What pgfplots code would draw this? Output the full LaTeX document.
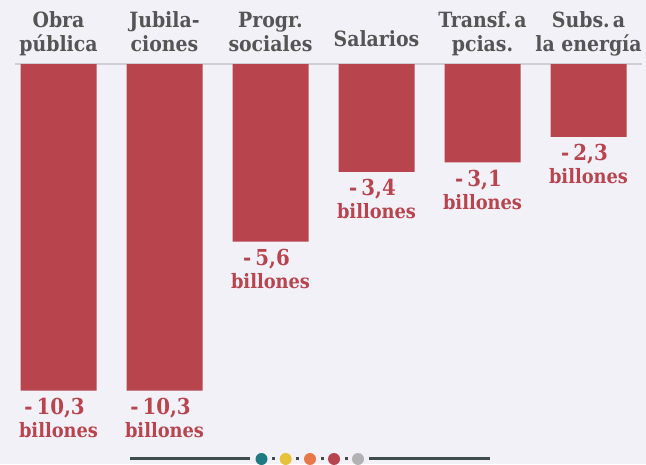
\documentclass[border=0pt]{standalone}
\usepackage{pgfplots}
\pgfplotsset{compat=1.18}
\usepackage{pgfplotstable}
\usepackage{fontspec}
\setmainfont{DejaVu Serif Condensed}[BoldFont={DejaVu Serif Condensed Bold}]
\definecolor{bg}{RGB}{242,241,248}
\definecolor{barred}{RGB}{184,68,78}
\definecolor{hdr}{RGB}{85,85,85}
\definecolor{basel}{RGB}{208,207,214}
\definecolor{deco}{RGB}{62,76,76}
\definecolor{cteal}{RGB}{30,122,128}
\definecolor{cyel}{RGB}{232,192,58}
\definecolor{corg}{RGB}{232,120,74}
\definecolor{cgray}{RGB}{178,178,178}
\pgfplotstableread{
x y lab
0 -10.3 {10,3}
1 -10.3 {10,3}
2 -5.6 {5,6}
3 -3.4 {3,4}
4 -3.1 {3,1}
5 -2.3 {2,3}
}\data
\begin{document}
\begin{tikzpicture}
\fill[bg] (0,0) rectangle (646pt,464pt);
\begin{axis}[
  at={(0,0)}, anchor=south west,
  width=646pt, height=464pt, scale only axis,
  xmin=-0.5519, xmax=5.5425, ymin=-12.618, ymax=2.019,
  hide axis, clip=false,
]
\draw[basel, line width=1.5pt] (axis cs:-0.41,0) -- (axis cs:5.505,0);
\addplot[ybar, bar width=76pt, bar shift=0pt, fill=barred, draw=none,
  point meta=explicit symbolic,
  nodes near coords={-\kern4pt\pgfplotspointmeta},
  every node near coord/.style={anchor=base, yshift=-24pt, xshift=-4pt, font=\bfseries\fontsize{22}{22}\selectfont, text=barred, inner sep=0pt}]
  table[x=x, y=y, meta=lab] {\data};
\addplot[draw=none, mark=none,
  nodes near coords={billones},
  every node near coord/.style={anchor=base, yshift=-47pt, font=\bfseries\fontsize{19.8}{19.8}\selectfont, text=barred, inner sep=0pt}]
  table[x=x, y=y] {\data};
\begin{scope}[every node/.style={anchor=base, font=\bfseries\fontsize{21}{21}\selectfont, text=hdr, inner sep=0pt}]
\node at (axis cs:0,1.167) {Obra};
\node at (axis cs:0,0.379) {pública};
\node at (axis cs:1,1.167) {Jubila-};
\node at (axis cs:1,0.379) {ciones};
\node at (axis cs:2,1.167) {Progr.};
\node at (axis cs:2,0.379) {sociales};
\node at (axis cs:3,0.55) {Salarios};
\node at (axis cs:4,1.167) {Transf.\kern3pt a};
\node at (axis cs:4,0.379) {pcias.};
\node at (axis cs:5,1.167) {Subs.\kern3pt a};
\node at (axis cs:5,0.379) {la energía};
\end{scope}
\end{axis}
% decorative footer
\draw[deco, line width=3pt] (130pt,5pt) -- (250pt,5pt);
\draw[deco, line width=3pt] (369pt,5pt) -- (490pt,5pt);
\fill[cteal] (261.5pt,5pt) circle (6pt);
\fill[cyel] (285.7pt,5pt) circle (6pt);
\fill[corg] (310pt,5pt) circle (6pt);
\fill[barred] (334pt,5pt) circle (6pt);
\fill[cgray] (358pt,5pt) circle (6pt);
\foreach \xx in {273.6,297.8,322,346}{\fill[deco] (\xx pt-1.5pt,3.5pt) rectangle (\xx pt+1.5pt,6.5pt);}
\pgfresetboundingbox
\useasboundingbox (0,0) rectangle (646pt,464pt);
\end{tikzpicture}
\end{document}
